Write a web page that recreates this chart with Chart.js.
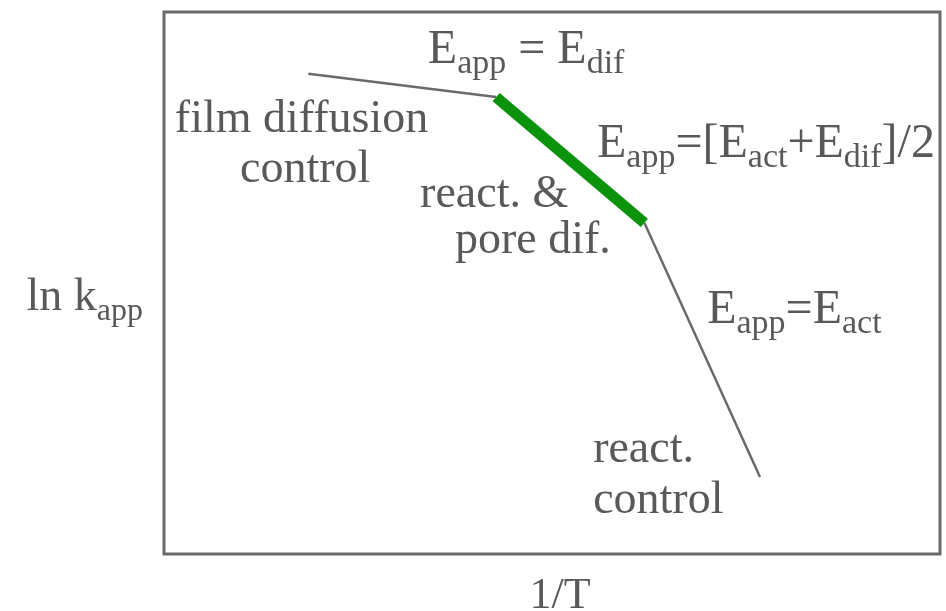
<!DOCTYPE html>
<html>
<head>
<meta charset="utf-8">
<script src="https://cdn.jsdelivr.net/npm/chart.js@4.4.1/dist/chart.umd.min.js"></script>
<style>
  html, body { margin: 0; padding: 0; background: #ffffff; }
  #wrap { width: 946px; height: 611px; position: relative; }
</style>
</head>
<body>
<div id="wrap"><canvas id="c" width="946" height="611"></canvas></div>
<script>
// ---- data (arbitrary units) ----
const invT   = [18.6, 42.8, 61.9, 76.8];   // 1/T at the segment ends / knees
const lnKapp = [88.6, 84.3, 61.1, 14.2];   // ln k_app at those points
const xTitle = '1/T';
const yTitleParts = [['ln k', 0], ['app', 1]];

// regime labels (anchored in data units: left x, baseline y)
const labelText = [
  { x: 1.4,  y: 77.9, parts: [['film diffusion', 0]] },
  { x: 9.8,  y: 68.6, parts: [['control', 0]] },
  { x: 33.0, y: 64.0, parts: [['react. &', 0]] },
  { x: 37.5, y: 55.5, parts: [['pore dif.', 0]] },
  { x: 55.3, y: 17.0, parts: [['react.', 0]] },
  { x: 55.3, y: 7.6,  parts: [['control', 0]] }
];
const equationText = [
  { x: 34.0, y: 90.6, parts: [['E', 0], ['app', 1], [' = ', 0], ['E', 0], ['dif', 1]] },
  { x: 55.8, y: 73.2, parts: [['E', 0], ['app', 1], ['=[', 0], ['E', 0], ['act', 1], ['+', 0], ['E', 0], ['dif', 1], [']/2', 0]] },
  { x: 70.0, y: 42.6, parts: [['E', 0], ['app', 1], ['=', 0], ['E', 0], ['act', 1]] }
];

const pts = invT.map((v, i) => ({ x: v, y: lnKapp[i] }));

const FONT = '"Liberation Serif", "DejaVu Serif", serif';
const TEXT_COLOR = '#595959';

function drawRich(ctx, parts, x, y, main, sub, subDrop) {
  let cx = x;
  for (const [t, isSub] of parts) {
    ctx.font = (isSub ? sub : main) + 'px ' + FONT;
    ctx.fillText(t, cx, isSub ? y + subDrop : y);
    cx += ctx.measureText(t).width;
  }
  return cx - x;
}
function richWidth(ctx, parts, main, sub) {
  let w = 0;
  for (const [t, isSub] of parts) {
    ctx.font = (isSub ? sub : main) + 'px ' + FONT;
    w += ctx.measureText(t).width;
  }
  return w;
}

const framePlugin = {
  id: 'frameAndText',
  beforeDatasetsDraw(chart) {
    const { ctx, chartArea: a } = chart;
    ctx.save();
    ctx.strokeStyle = '#6a6a6a';
    ctx.lineWidth = 3;
    ctx.strokeRect(a.left, a.top, a.right - a.left, a.bottom - a.top);
    ctx.restore();
  },
  afterDatasetsDraw(chart) {
    const { ctx, chartArea: a, scales } = chart;
    const xs = scales.x, ys = scales.y;
    ctx.save();
    ctx.fillStyle = TEXT_COLOR;
    ctx.textBaseline = 'alphabetic';
    ctx.textAlign = 'left';
    for (const l of labelText) {
      drawRich(ctx, l.parts, xs.getPixelForValue(l.x), ys.getPixelForValue(l.y), 46, 32, 10);
    }
    for (const l of equationText) {
      drawRich(ctx, l.parts, xs.getPixelForValue(l.x), ys.getPixelForValue(l.y), 48, 34, 10);
    }
    // axis titles
    const yw = richWidth(ctx, yTitleParts, 46, 32);
    drawRich(ctx, yTitleParts, a.left - 21 - yw, (a.top + a.bottom) / 2 + 27, 46, 32, 10);
    ctx.font = '44px ' + FONT;
    ctx.textAlign = 'center';
    ctx.fillText(xTitle, (a.left + a.right) / 2 + 8, a.bottom + 54);
    ctx.restore();
  }
};

new Chart(document.getElementById('c'), {
  type: 'scatter',
  data: {
    datasets: [
      { data: [pts[1], pts[2]], showLine: true, borderColor: '#0b930b', borderWidth: 11,
        pointRadius: 0, borderCapStyle: 'butt' },
      { data: [pts[0], pts[1]], showLine: true, borderColor: '#6a6a6a', borderWidth: 2.5,
        pointRadius: 0 },
      { data: [pts[2], pts[3]], showLine: true, borderColor: '#6a6a6a', borderWidth: 2.5,
        pointRadius: 0 }
    ]
  },
  options: {
    responsive: false,
    animation: false,
    layout: { padding: { left: 164, right: 6, top: 12, bottom: 57 } },
    plugins: { legend: { display: false }, tooltip: { enabled: false } },
    scales: {
      x: { type: 'linear', min: 0, max: 100, display: false },
      y: { type: 'linear', min: 0, max: 100, display: false }
    }
  },
  plugins: [framePlugin]
});
</script>
</body>
</html>
